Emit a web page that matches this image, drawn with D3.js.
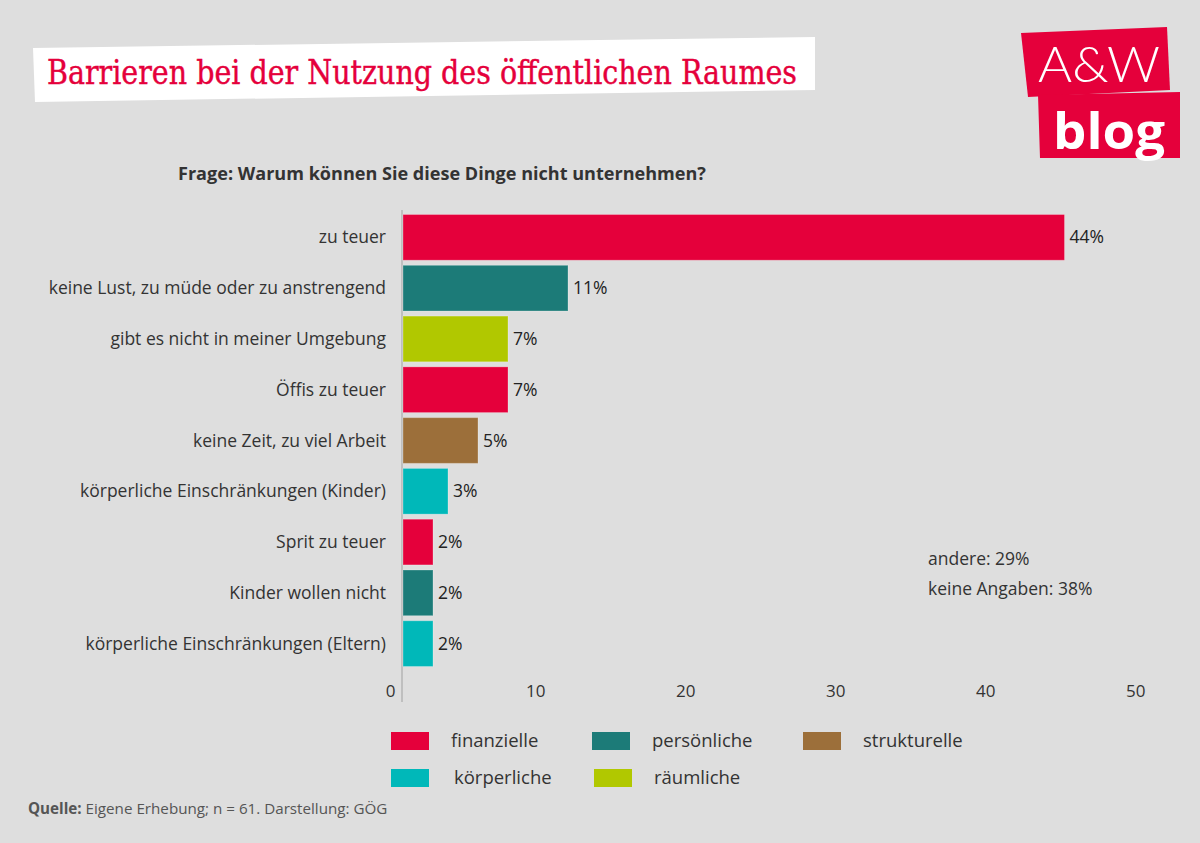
<!DOCTYPE html>
<html><head><meta charset="utf-8">
<script src="https://cdn.jsdelivr.net/npm/d3@7"></script>
<style>
html,body{margin:0;padding:0;background:#dedede;}
svg{display:block;}
</style></head>
<body>
<svg id="chart" width="1200" height="843"></svg>
<script>
const categories = ["zu teuer","keine Lust, zu müde oder zu anstrengend","gibt es nicht in meiner Umgebung","Öffis zu teuer","keine Zeit, zu viel Arbeit","körperliche Einschränkungen (Kinder)","Sprit zu teuer","Kinder wollen nicht","körperliche Einschränkungen (Eltern)"];
const values = [44.1, 11, 7, 7, 5, 3, 2, 2, 2];
const groups = ["finanzielle","persönliche","räumliche","finanzielle","strukturelle","körperliche","finanzielle","persönliche","körperliche"];
const legendKeys = ["finanzielle","persönliche","strukturelle","körperliche","räumliche"];
const legendColors = ["#e5003b","#1c7b78","#9c6f3a","#00b8b9","#b1c800"];
const ticks = [0,10,20,30,40,50];
const notes = ["andere: 29%","keine Angaben: 38%"];

const svg = d3.select("#chart");
const font = "'Open Sans', sans-serif";
svg.append("rect").attr("width",1200).attr("height",843).attr("fill","#dedede");

// title box
svg.append("polygon").attr("points","33,48 815,37 815,90 35,102").attr("fill","#ffffff");
svg.append("text").attr("x",47).attr("y",84).attr("font-family","'DejaVu Serif Condensed', 'DejaVu Serif', serif")
  .attr("font-size",34).attr("fill","#e5003b").attr("stroke","#e5003b").attr("stroke-width",0.4)
  .attr("textLength",750).attr("lengthAdjust","spacingAndGlyphs")
  .text("Barrieren bei der Nutzung des öffentlichen Raumes");

// logo
svg.append("polygon").attr("points","1021,33 1167,27 1170,90 1028,97").attr("fill","#e5003b");
svg.append("polygon").attr("points","1038,95 1180,92 1180,158 1040,158").attr("fill","#e5003b");
svg.append("text").attr("x",1099).attr("y",82).attr("text-anchor","middle").attr("font-family","Lato, sans-serif")
  .attr("font-weight",300).attr("font-size",50).attr("fill","#fff").attr("textLength",122).attr("lengthAdjust","spacingAndGlyphs").text("A&W");
svg.append("text").attr("x",1109).attr("y",149).attr("text-anchor","middle").attr("font-family","'Open Sans', sans-serif")
  .attr("font-weight",700).attr("font-size",51).attr("fill","#fff").attr("textLength",112).attr("lengthAdjust","spacingAndGlyphs").text("blog");

// subtitle
svg.append("text").attr("x",178).attr("y",180).attr("font-family",font).attr("font-weight",700)
  .attr("font-size",17).attr("fill","#333").attr("textLength",528).attr("lengthAdjust","spacingAndGlyphs")
  .text("Frage: Warum können Sie diese Dinge nicht unternehmen?");

const color = d3.scaleOrdinal().domain(legendKeys).range(legendColors);
const x = d3.scaleLinear().domain([0,50]).range([403,1153]);
const y = d3.scaleBand().domain(categories).range([213,668]).paddingInner(0.1).paddingOuter(0.03);

// axis line
svg.append("line").attr("x1",402).attr("x2",402).attr("y1",210).attr("y2",702).attr("stroke","#b5b5b5").attr("stroke-width",1.5);

// bars
svg.selectAll("rect.bar").data(values).join("rect").attr("class","bar")
  .attr("x",x(0)).attr("y",(d,i)=>y(categories[i]))
  .attr("width",d=>x(d)-x(0)).attr("height",y.bandwidth())
  .attr("fill",(d,i)=>color(groups[i])).attr("stroke","rgba(255,255,255,0.25)").attr("stroke-width",1);

// value labels
svg.selectAll("text.val").data(values).join("text").attr("class","val")
  .attr("x",d=>x(d)+5).attr("y",(d,i)=>y(categories[i])+y.bandwidth()/2+6)
  .attr("font-family",font).attr("font-size",17.5).attr("fill","#222")
  .text(d=>Math.round(d)+"%");

// category labels
svg.selectAll("text.cat").data(categories).join("text").attr("class","cat")
  .attr("x",386).attr("y",d=>y(d)+y.bandwidth()/2+6).attr("text-anchor","end")
  .attr("font-family",font).attr("font-size",17.5).attr("fill","#333").text(d=>d);

// x tick labels
const xa = svg.append("g").attr("transform","translate(0,680)")
  .call(d3.axisBottom(x).tickValues(ticks).tickSize(0).tickPadding(0).tickFormat(d3.format("d")));
xa.select(".domain").remove();
xa.selectAll("text").attr("font-family",font).attr("font-size",17).attr("fill","#333")
  .attr("text-anchor","end").attr("dx",-8).attr("dy","1.0em");

// notes
svg.selectAll("text.note").data(notes).join("text").attr("class","note")
  .attr("x",928).attr("y",(d,i)=>565+i*30).attr("font-family",font).attr("font-size",17.5).attr("fill","#333").text(d=>d);

// legend
const legPos = [[391,741],[592,741],[803,741],[391,778],[594,778]];
const lg = svg.selectAll("g.leg").data(legendKeys).join("g").attr("class","leg")
  .attr("transform",(d,i)=>`translate(${legPos[i][0]},${legPos[i][1]})`);
lg.append("rect").attr("x",0).attr("y",-9).attr("width",38).attr("height",18).attr("fill",d=>color(d));
lg.append("text").attr("x",(d,i)=> i===3?63:60).attr("y",6).attr("font-family",font).attr("font-size",18.5).attr("fill","#333").text(d=>d);

// source
const src = svg.append("text").attr("x",28).attr("y",814).attr("font-family",font).attr("font-size",15.2).attr("fill","#555");
src.append("tspan").attr("font-weight",700).text("Quelle:");
src.append("tspan").text(" Eigene Erhebung; n = 61. Darstellung: GÖG");
</script>
</body></html>
